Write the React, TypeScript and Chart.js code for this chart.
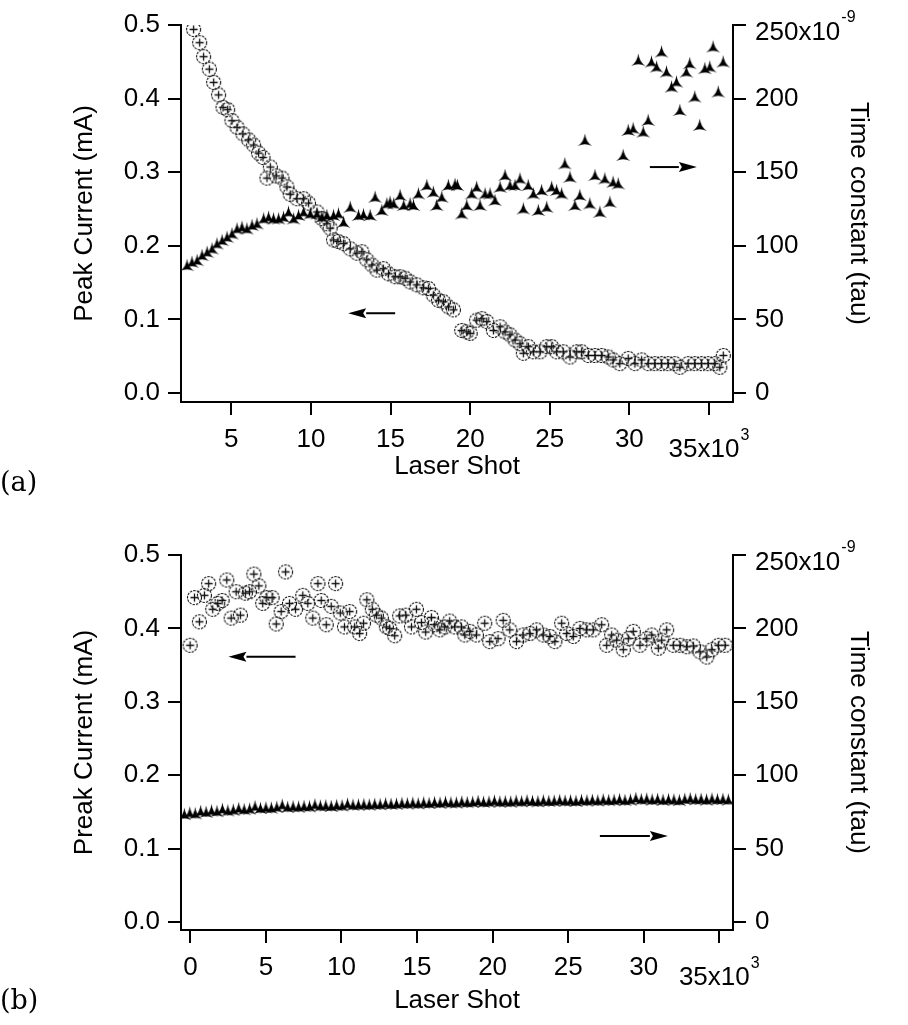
import React, { useEffect, useRef } from "react";
import { Chart, registerables } from "chart.js";

Chart.register(...registerables);

// ---------------- DATA ----------------
// (a) Peak current vs laser shot (x in 10^3 shots, y in mA)
const topShotK = [2.63, 3.01, 3.26, 3.62, 3.89, 4.2, 4.48, 4.77, 5.04, 5.36, 5.73, 6.09, 6.4, 6.71, 6.99, 7.24, 7.45, 7.82, 8.18, 8.49, 8.7, 9.12, 9.54, 9.85, 10.38, 10.69, 11.0, 11.21, 11.42, 11.7, 12.05, 12.47, 12.89, 13.2, 13.51, 13.83, 14.14, 14.55, 14.87, 15.29, 15.6, 15.92, 16.23, 16.65, 17.06, 17.38, 17.69, 18.01, 18.32, 18.64, 18.95, 19.47, 19.79, 20.0, 20.41, 20.73, 21.04, 21.46, 21.88, 22.19, 22.5, 22.82, 23.13, 23.34, 23.66, 23.97, 24.39, 24.81, 25.12, 25.43, 25.85, 26.27, 26.69, 27.0, 27.42, 27.84, 28.26, 28.67, 28.98, 29.4, 29.93, 30.35, 30.77, 31.18, 31.6, 32.02, 32.43, 32.85, 33.17, 33.69, 34.11, 34.53, 34.95, 35.36, 35.68, 35.9];
const topPeakCurrent = [0.494, 0.476, 0.457, 0.44, 0.422, 0.405, 0.388, 0.385, 0.37, 0.361, 0.352, 0.344, 0.337, 0.326, 0.32, 0.292, 0.307, 0.295, 0.292, 0.28, 0.27, 0.264, 0.264, 0.258, 0.246, 0.237, 0.23, 0.224, 0.208, 0.206, 0.203, 0.196, 0.19, 0.192, 0.181, 0.174, 0.167, 0.169, 0.162, 0.158, 0.158, 0.156, 0.151, 0.147, 0.143, 0.142, 0.133, 0.126, 0.124, 0.117, 0.113, 0.085, 0.083, 0.081, 0.099, 0.101, 0.097, 0.085, 0.09, 0.083, 0.079, 0.072, 0.067, 0.054, 0.063, 0.056, 0.056, 0.063, 0.063, 0.056, 0.056, 0.049, 0.056, 0.056, 0.051, 0.051, 0.051, 0.049, 0.045, 0.04, 0.047, 0.04, 0.045, 0.04, 0.04, 0.04, 0.04, 0.04, 0.035, 0.04, 0.04, 0.04, 0.04, 0.04, 0.035, 0.051];

// (a) Time constant vs laser shot (x in 10^3 shots, y in 10^-9)
const topTauShotK = [2.22, 2.53, 2.85, 3.16, 3.48, 3.79, 4.1, 4.42, 4.73, 5.04, 5.36, 5.67, 5.98, 6.3, 6.61, 7.03, 7.34, 7.65, 7.97, 8.28, 8.59, 8.91, 9.22, 9.54, 9.96, 10.38, 10.69, 11.0, 11.42, 11.73, 12.05, 12.47, 12.99, 13.3, 13.72, 14.03, 14.45, 14.77, 14.97, 15.2, 15.6, 15.83, 16.23, 16.44, 16.75, 17.28, 17.69, 17.9, 18.22, 18.63, 19.05, 19.2, 19.47, 19.79, 20.1, 20.41, 20.62, 20.94, 21.25, 21.56, 21.88, 22.19, 22.5, 22.82, 23.13, 23.34, 23.65, 23.97, 24.28, 24.49, 24.81, 25.12, 25.43, 25.75, 25.95, 26.27, 26.58, 26.89, 27.21, 27.52, 27.84, 28.15, 28.46, 28.78, 28.98, 29.3, 29.61, 29.93, 30.24, 30.56, 30.87, 31.18, 31.39, 31.71, 32.02, 32.33, 32.65, 32.96, 33.17, 33.58, 33.79, 34.11, 34.42, 34.74, 35.05, 35.26, 35.58, 35.89];
const topTau = [86.9, 89.1, 90.3, 93.7, 95.9, 98.2, 101.6, 103.9, 106.1, 108.4, 111.8, 112.9, 111.8, 114.1, 115.2, 118.6, 119.7, 118.6, 118.6, 119.7, 123.1, 118.6, 120.9, 123.1, 122.0, 122.0, 119.7, 120.9, 120.9, 122.0, 116.3, 126.5, 120.9, 121.5, 120.9, 133.3, 124.3, 128.8, 129.9, 128.8, 134.5, 127.7, 128.8, 127.7, 135.6, 141.3, 136.7, 127.7, 133.3, 141.3, 142.0, 141.3, 122.0, 127.7, 135.6, 140.1, 127.7, 135.6, 135.6, 131.1, 140.1, 148.1, 141.3, 141.3, 145.8, 125.4, 141.3, 135.6, 124.3, 137.9, 126.5, 140.1, 137.9, 135.6, 156.0, 146.9, 127.7, 134.5, 171.9, 128.8, 148.1, 123.1, 145.8, 129.9, 143.5, 142.4, 161.7, 178.7, 179.9, 226.3, 177.6, 185.5, 225.2, 221.8, 232.0, 218.4, 208.2, 211.6, 192.3, 218.4, 224.1, 201.4, 182.1, 220.7, 221.8, 235.4, 204.8, 225.2];

// (b) Peak current vs laser shot
const botShotK = [-0.02, 0.27, 0.6, 0.93, 1.21, 1.48, 1.81, 2.1, 2.41, 2.7, 3.03, 3.31, 3.64, 3.91, 4.2, 4.53, 4.79, 5.06, 5.41, 5.68, 6.01, 6.3, 6.56, 6.96, 7.44, 7.77, 8.1, 8.44, 8.66, 8.99, 9.32, 9.61, 9.92, 10.2, 10.54, 10.87, 11.2, 11.46, 11.68, 12.04, 12.31, 12.64, 12.97, 13.19, 13.52, 13.85, 14.25, 14.63, 14.96, 15.29, 15.57, 15.95, 16.17, 16.5, 16.83, 17.16, 17.49, 17.94, 18.16, 18.49, 18.93, 19.48, 19.81, 20.36, 20.7, 21.14, 21.58, 22.02, 22.47, 22.91, 23.35, 23.79, 24.12, 24.57, 24.9, 25.34, 25.78, 26.22, 26.66, 27.22, 27.55, 27.88, 28.21, 28.65, 28.98, 29.31, 29.75, 30.2, 30.53, 30.97, 31.19, 31.52, 31.96, 32.41, 32.85, 33.29, 33.73, 34.17, 34.51, 34.94, 35.39];
const botPeakCurrent = [0.377, 0.442, 0.409, 0.445, 0.461, 0.426, 0.434, 0.438, 0.466, 0.414, 0.45, 0.418, 0.448, 0.45, 0.474, 0.458, 0.434, 0.442, 0.442, 0.406, 0.423, 0.477, 0.434, 0.426, 0.445, 0.434, 0.414, 0.461, 0.438, 0.405, 0.43, 0.461, 0.421, 0.402, 0.423, 0.402, 0.393, 0.407, 0.439, 0.426, 0.418, 0.414, 0.402, 0.4, 0.39, 0.417, 0.418, 0.402, 0.426, 0.408, 0.395, 0.415, 0.405, 0.398, 0.402, 0.41, 0.402, 0.402, 0.391, 0.396, 0.391, 0.407, 0.382, 0.386, 0.411, 0.398, 0.382, 0.391, 0.393, 0.398, 0.391, 0.389, 0.382, 0.407, 0.393, 0.389, 0.4, 0.398, 0.398, 0.405, 0.377, 0.391, 0.384, 0.371, 0.386, 0.396, 0.377, 0.386, 0.391, 0.373, 0.384, 0.398, 0.377, 0.377, 0.375, 0.376, 0.368, 0.361, 0.371, 0.377, 0.377];

// (b) Time constant vs laser shot
const botTauShotK = [-0.4, -0.04, 0.32, 0.68, 1.04, 1.4, 1.76, 2.12, 2.48, 2.84, 3.2, 3.56, 3.92, 4.28, 4.64, 5.0, 5.36, 5.72, 6.08, 6.44, 6.8, 7.16, 7.52, 7.88, 8.24, 8.6, 8.96, 9.32, 9.68, 10.04, 10.4, 10.76, 11.12, 11.48, 11.84, 12.2, 12.56, 12.92, 13.28, 13.64, 14.0, 14.36, 14.72, 15.08, 15.44, 15.8, 16.16, 16.52, 16.88, 17.24, 17.6, 17.96, 18.32, 18.68, 19.04, 19.4, 19.76, 20.12, 20.48, 20.84, 21.2, 21.56, 21.92, 22.28, 22.64, 23.0, 23.36, 23.72, 24.08, 24.44, 24.8, 25.16, 25.52, 25.88, 26.24, 26.6, 26.96, 27.32, 27.68, 28.04, 28.4, 28.76, 29.12, 29.48, 29.84, 30.2, 30.56, 30.92, 31.28, 31.64, 32.0, 32.36, 32.72, 33.08, 33.44, 33.8, 34.16, 34.52, 34.88, 35.24, 35.6];
const botTau = [73.5, 74.5, 74.0, 75.5, 75.0, 76.0, 75.5, 77.0, 76.0, 76.5, 77.5, 76.8, 77.2, 78.8, 77.6, 78.0, 77.8, 78.4, 79.8, 78.4, 78.8, 78.6, 79.0, 78.8, 80.0, 79.2, 79.4, 79.0, 79.6, 79.4, 80.6, 79.8, 80.0, 80.2, 80.0, 80.4, 80.2, 80.8, 80.4, 80.6, 81.0, 80.8, 81.2, 80.8, 81.4, 81.0, 81.6, 81.2, 81.8, 81.4, 81.4, 82.0, 81.6, 81.8, 82.4, 81.8, 82.0, 82.6, 82.0, 82.2, 82.0, 82.6, 82.2, 82.8, 82.4, 82.2, 82.8, 82.4, 82.6, 83.0, 82.6, 82.8, 82.4, 83.0, 82.8, 83.2, 82.8, 83.4, 83.0, 83.2, 83.6, 83.0, 83.4, 84.4, 83.6, 84.0, 83.4, 83.8, 83.2, 83.6, 83.4, 83.0, 83.8, 84.2, 83.6, 83.8, 83.4, 84.0, 83.6, 83.8, 83.4];

// Axis tick labels / titles
const xTicksTop = [5, 10, 15, 20, 25, 30, 35];
const xTicksBot = [0, 5, 10, 15, 20, 25, 30, 35];
const leftTicks = [0.0, 0.1, 0.2, 0.3, 0.4, 0.5];
const rightTicks = [0, 50, 100, 150, 200, 250];

// Arrow annotations, in data units: [xTail, xHead, y, axis]
const topArrows: [number, number, number, string][] = [
  [15.29, 12.34, 0.1084, "y"],
  [31.29, 34.24, 153.5, "y2"],
];
const botArrows: [number, number, number, string][] = [
  [6.96, 2.52, 0.3614, "y"],
  [27.1, 31.6, 58.6, "y2"],
];

// ---------------- STYLE ----------------
const FAMILY = '"Liberation Sans", Arial, sans-serif';
const FS = 26;

function makeCircleMarker(): HTMLCanvasElement {
  const c = document.createElement("canvas");
  c.width = 17;
  c.height = 17;
  const g = c.getContext("2d")!;
  g.strokeStyle = "#111";
  g.lineWidth = 1.1;
  g.setLineDash([2.4, 1.1]);
  g.beginPath();
  g.arc(8.5, 8.5, 7, 0, Math.PI * 2);
  g.stroke();
  g.setLineDash([]);
  g.strokeStyle = "#111";
  g.lineWidth = 1.3;
  g.beginPath();
  g.moveTo(4.5, 8.5);
  g.lineTo(12.5, 8.5);
  g.moveTo(8.5, 4.5);
  g.lineTo(8.5, 12.5);
  g.stroke();
  return c;
}

function makeTriMarker(): HTMLCanvasElement {
  const c = document.createElement("canvas");
  c.width = 15;
  c.height = 14;
  const g = c.getContext("2d")!;
  g.fillStyle = "#000";
  g.beginPath();
  g.moveTo(7.5, 0.5);
  g.quadraticCurveTo(6.6, 8.6, 0.5, 13);
  g.quadraticCurveTo(7.5, 9.6, 14.5, 13);
  g.quadraticCurveTo(8.4, 8.6, 7.5, 0.5);
  g.closePath();
  g.fill();
  return c;
}

type PanelOpts = {
  padTop: number;
  xH: number;
  xMin: number;
  xMax: number;
  yMin: number;
  y2Min: number;
  xTicks: number[];
  yTitle: string;
  xTitlePadBottom: number;
  xs: number[];
  ys: number[];
  txs: number[];
  tys: number[];
  arrows: [number, number, number, string][];
};

function buildConfig(o: PanelOpts, circ: HTMLCanvasElement, tri: HTMLCanvasElement): any {
  const font = { family: FAMILY, size: FS };
  const axisGrid = {
    display: true,
    drawOnChartArea: false,
    drawTicks: true,
    tickLength: 13,
    tickWidth: 2,
    lineWidth: 2,
    color: "#000",
  };
  const axisBorder = { display: true, color: "#000", width: 2 };
  const xLast = o.xTicks[o.xTicks.length - 1];
  const rLast = rightTicks[rightTicks.length - 1];

  const overlay = {
    id: "overlay",
    afterDraw(chart: any) {
      const ctx = chart.ctx;
      const area = chart.chartArea;
      const sx = chart.scales.x;
      ctx.save();
      ctx.fillStyle = "#000";
      ctx.strokeStyle = "#000";
      // arrows
      for (const [xt, xh, yv, ax] of o.arrows) {
        const sy = chart.scales[ax];
        const p1 = sx.getPixelForValue(xt);
        const p2 = sx.getPixelForValue(xh);
        const py = sy.getPixelForValue(yv);
        const dir = p2 > p1 ? 1 : -1;
        const headLen = 18;
        const headW = 5;
        ctx.lineWidth = 2;
        ctx.beginPath();
        ctx.moveTo(p1, py);
        ctx.lineTo(p2 - dir * headLen, py);
        ctx.stroke();
        ctx.beginPath();
        ctx.moveTo(p2, py);
        ctx.lineTo(p2 - dir * headLen, py - headW);
        ctx.lineTo(p2 - dir * (headLen - 3), py);
        ctx.lineTo(p2 - dir * headLen, py + headW);
        ctx.closePath();
        ctx.fill();
      }
      // exponent labels
      ctx.textBaseline = "middle";
      ctx.textAlign = "left";
      // x axis: 35x10^3
      const base1 = `${xLast}x10`;
      ctx.font = `${FS}px ${FAMILY}`;
      const w1 = ctx.measureText(base1).width;
      ctx.font = `16px ${FAMILY}`;
      const w2 = ctx.measureText("3").width;
      const px = sx.getPixelForValue(xLast);
      const start = px - (w1 + w2 + 1) / 2;
      const cy = area.bottom + 37 + 11;
      ctx.font = `${FS}px ${FAMILY}`;
      ctx.fillText(base1, start, cy);
      ctx.font = `16px ${FAMILY}`;
      ctx.fillText("3", start + w1 + 1, cy - 14);
      // right axis: 250x10^-9
      const sy2 = chart.scales.y2;
      const base2 = `${rLast}x10`;
      const rx = area.right + 13 + 9;
      const ry = sy2.getPixelForValue(rLast) + 8;
      ctx.font = `${FS}px ${FAMILY}`;
      const w3 = ctx.measureText(base2).width;
      ctx.fillText(base2, rx, ry);
      ctx.font = `16px ${FAMILY}`;
      ctx.fillText("-9", rx + w3 + 1, ry - 15);
      ctx.restore();
    },
  };

  return {
    type: "scatter",
    data: {
      datasets: [
        {
          label: "Time constant",
          data: o.txs.map((x, i) => ({ x, y: o.tys[i] })),
          yAxisID: "y2",
          pointStyle: tri,
          pointRadius: 6,
          showLine: false,
        },
        {
          label: "Peak current",
          data: o.xs.map((x, i) => ({ x, y: o.ys[i] })),
          yAxisID: "y",
          pointStyle: circ,
          pointRadius: 7,
          showLine: false,
        },
      ],
    },
    options: {
      animation: false,
      responsive: false,
      devicePixelRatio: 1,
      layout: { padding: { top: o.padTop, left: 0, right: 0, bottom: 0 } },
      plugins: { legend: { display: false }, tooltip: { enabled: false } },
      scales: {
        x: {
          type: "linear",
          position: "bottom",
          min: o.xMin,
          max: o.xMax,
          afterFit: (s: any) => {
            s.height = o.xH;
            s.paddingLeft = 0;
            s.paddingRight = 0;
          },
          grid: axisGrid,
          border: axisBorder,
          afterBuildTicks: (s: any) => {
            s.ticks = o.xTicks.map((v) => ({ value: v }));
          },
          ticks: {
            padding: 9,
            color: "#000",
            font,
            maxRotation: 0,
            autoSkip: false,
            callback: (v: number) => (v === xLast ? "" : String(v)),
          },
          title: {
            display: true,
            text: "Laser Shot",
            color: "#000",
            font,
            padding: { top: 0, bottom: o.xTitlePadBottom },
          },
        },
        y: {
          type: "linear",
          position: "left",
          min: o.yMin,
          max: 0.5,
          afterFit: (s: any) => {
            s.width = 181;
            s.paddingTop = 0;
            s.paddingBottom = 0;
          },
          afterBuildTicks: (s: any) => {
            s.ticks = leftTicks.map((v) => ({ value: v }));
          },
          grid: axisGrid,
          border: axisBorder,
          ticks: {
            padding: 8,
            color: "#000",
            font,
            autoSkip: false,
            callback: (v: number) => v.toFixed(1),
          },
          title: {
            display: true,
            text: o.yTitle,
            color: "#000",
            font,
            padding: { top: 69.4, bottom: 0 },
          },
        },
        y2: {
          type: "linear",
          position: "right",
          min: o.y2Min,
          max: 250,
          afterFit: (s: any) => {
            s.width = 175;
            s.paddingTop = 0;
            s.paddingBottom = 0;
          },
          afterBuildTicks: (s: any) => {
            s.ticks = rightTicks.map((v) => ({ value: v }));
          },
          grid: axisGrid,
          border: axisBorder,
          ticks: {
            padding: 9,
            color: "#000",
            font,
            autoSkip: false,
            callback: (v: number) => (v === rLast ? "" : String(v)),
          },
          title: {
            display: true,
            text: "Time constant (tau)",
            color: "#000",
            font,
            padding: { top: 34.4, bottom: 0 },
          },
        },
      },
    },
    plugins: [overlay],
  };
}

export default function App() {
  const topRef = useRef<HTMLCanvasElement>(null);
  const botRef = useRef<HTMLCanvasElement>(null);

  useEffect(() => {
    const circ = makeCircleMarker();
    const tri = makeTriMarker();
    const c1 = new Chart(
      topRef.current!,
      buildConfig(
        {
          padTop: 25,
          xH: 98,
          xMin: 1.84,
          xMax: 36.51,
          yMin: -0.0122,
          y2Min: -6.1,
          xTicks: xTicksTop,
          yTitle: "Peak Current (mA)",
          xTitlePadBottom: 17.4,
          xs: topShotK,
          ys: topPeakCurrent,
          txs: topTauShotK,
          tys: topTau,
          arrows: topArrows,
        },
        circ,
        tri
      )
    );
    const c2 = new Chart(
      botRef.current!,
      buildConfig(
        {
          padTop: 45,
          xH: 95,
          xMin: -0.62,
          xMax: 35.91,
          yMin: -0.011,
          y2Min: -5.5,
          xTicks: xTicksBot,
          yTitle: "Preak Current (mA)",
          xTitlePadBottom: 8.4,
          xs: botShotK,
          ys: botPeakCurrent,
          txs: botTauShotK,
          tys: botTau,
          arrows: botArrows,
        },
        circ,
        tri
      )
    );
    return () => {
      c1.destroy();
      c2.destroy();
    };
  }, []);

  const panelLabel: React.CSSProperties = {
    position: "absolute",
    left: 0,
    font: '27px "DejaVu Serif", serif',
    lineHeight: "27px",
    color: "#000",
  };

  return (
    <div style={{ position: "absolute", left: 0, top: 0, width: 908, height: 1025, background: "#fff", overflow: "hidden" }}>
      <canvas ref={topRef} width={908} height={500} style={{ position: "absolute", left: 0, top: 0, width: 908, height: 500 }} />
      <canvas ref={botRef} width={908} height={515} style={{ position: "absolute", left: 0, top: 510, width: 908, height: 515 }} />
      <div style={{ ...panelLabel, top: 468 }}>(a)</div>
      <div style={{ ...panelLabel, top: 986 }}>(b)</div>
    </div>
  );
}
